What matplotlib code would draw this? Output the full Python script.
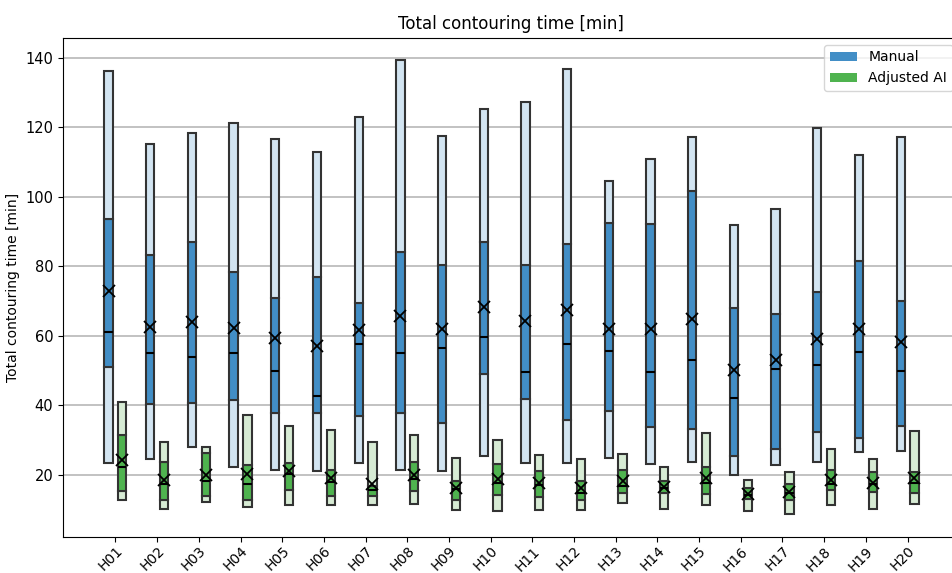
import numpy as np
import matplotlib
matplotlib.use('Agg')
import matplotlib.pyplot as plt
from matplotlib.patches import Patch

# ===========================
# Per-subject summary stats [min]
# ===========================
subjects = [f"H{i:02d}" for i in range(1, 21)]

manual_min = [23.3, 24.6, 27.9, 22.3, 21.5, 21.2, 23.3, 21.5, 21.1, 25.3,
              23.5, 23.5, 24.7, 23.2, 23.8, 20.0, 22.7, 23.7, 26.5, 26.7]
manual_q1 = [51.0, 40.3, 40.6, 41.4, 37.7, 37.7, 36.8, 37.7, 34.8, 49.1,
             41.8, 35.7, 38.4, 33.7, 33.2, 25.5, 27.3, 32.3, 30.7, 33.9]
manual_med = [61.2, 55.0, 53.9, 55.0, 49.8, 42.7, 57.5, 55.0, 56.5, 59.7,
              49.6, 57.7, 55.7, 49.6, 53.0, 42.0, 50.4, 51.5, 55.4, 50.0]
manual_q3 = [93.7, 83.4, 86.9, 78.4, 70.9, 77.0, 69.4, 84.2, 80.5, 86.9,
             80.5, 86.3, 92.6, 92.3, 101.7, 68.0, 66.2, 72.5, 81.6, 70.0]
manual_max = [136.3, 115.3, 118.5, 121.3, 116.6, 113.0, 123.1, 139.4, 117.5, 125.4,
              127.4, 136.7, 104.5, 110.8, 117.1, 91.9, 96.5, 119.7, 112.1, 117.3]
manual_mean = [72.8, 62.4, 64.1, 62.2, 59.4, 57.1, 61.8, 65.6, 62.0, 68.2,
               64.2, 67.3, 62.0, 62.0, 64.8, 50.1, 53.0, 59.1, 62.1, 58.3]

ai_min = [12.6, 10.2, 12.2, 10.7, 11.4, 11.2, 11.2, 11.7, 9.8, 9.7,
          9.8, 9.8, 11.9, 10.1, 11.2, 9.5, 8.7, 11.4, 10.2, 11.7]
ai_q1 = [15.4, 12.8, 14.0, 12.7, 15.6, 13.9, 13.8, 15.4, 12.7, 14.2,
         13.6, 12.7, 14.6, 14.7, 14.5, 12.9, 12.7, 15.5, 15.0, 14.8]
ai_med = [22.1, 17.2, 18.1, 17.4, 20.3, 17.9, 15.6, 18.9, 16.0, 17.5,
          17.0, 14.7, 16.8, 16.2, 17.6, 14.2, 14.6, 17.2, 17.4, 17.6]
ai_q3 = [31.3, 23.7, 26.3, 22.9, 23.5, 21.3, 16.7, 23.6, 18.1, 23.1,
         21.0, 18.1, 21.3, 18.1, 22.1, 16.1, 17.4, 21.5, 20.8, 20.8]
ai_max = [40.8, 29.5, 28.1, 37.1, 33.9, 32.8, 29.4, 31.4, 24.9, 30.1,
          25.7, 24.6, 25.9, 22.1, 32.0, 18.4, 20.9, 27.5, 24.4, 32.5]
ai_mean = [24.1, 18.4, 19.8, 20.3, 21.2, 19.1, 17.4, 20.0, 16.3, 18.8,
           17.5, 16.1, 18.1, 16.4, 19.0, 14.5, 15.0, 18.4, 17.6, 19.0]

MANUAL_DARK, MANUAL_LIGHT = '#428ec6', '#d2e4f1'
AI_DARK, AI_LIGHT = '#4fb34f', '#d7ebd4'
EDGE = '#333333'


def draw_group(ax, x, lo, q1, med, q3, hi, mean, dark, light, width):
    lo, q1, med, q3, hi, mean = map(np.asarray, (lo, q1, med, q3, hi, mean))
    kw = dict(width=width, edgecolor=EDGE, linewidth=1.5, zorder=3)
    ax.bar(x, q1 - lo, bottom=lo, color=light, **kw)
    ax.bar(x, q3 - q1, bottom=q1, color=dark, **kw)
    ax.bar(x, hi - q3, bottom=q3, color=light, **kw)
    ax.hlines(med, x - width / 2, x + width / 2, colors='black', linewidth=1.5, zorder=4)
    ax.plot(x, mean, linestyle='none', marker='x', color='black',
            markersize=9, markeredgewidth=1.3, zorder=5)


fig = plt.figure(figsize=(9.53, 5.73), dpi=100)
ax = fig.add_axes([0.066, 0.063, 0.941, 0.871])

x = np.arange(len(subjects))
w = 0.2
off = 0.165
draw_group(ax, x - off, manual_min, manual_q1, manual_med, manual_q3, manual_max,
           manual_mean, MANUAL_DARK, MANUAL_LIGHT, w)
draw_group(ax, x + off, ai_min, ai_q1, ai_med, ai_q3, ai_max,
           ai_mean, AI_DARK, AI_LIGHT, w)

ax.set_xticks(x)
ax.set_xticklabels(subjects, rotation=45, ha='right', rotation_mode='anchor', fontsize=10)
ax.tick_params(axis='x', pad=1.5)
ax.set_xlim(-1.26, 20.25)
ax.set_ylim(2.1, 145.8)
ax.set_yticks(np.arange(20, 141, 20))
ax.tick_params(axis='y', labelsize=10.5)
ax.yaxis.grid(True, color='#b8b8b8', linewidth=1.2, zorder=0)
ax.set_axisbelow(True)

ax.set_title('Total contouring time [min]', fontsize=12)
ax.set_ylabel('Total contouring time [min]', fontsize=10)

handles = [Patch(facecolor=MANUAL_DARK, label='Manual'),
           Patch(facecolor=AI_DARK, label='Adjusted AI')]
ax.legend(handles=handles, loc='upper right', fontsize=10)

fig.savefig('out.png', dpi=100)
